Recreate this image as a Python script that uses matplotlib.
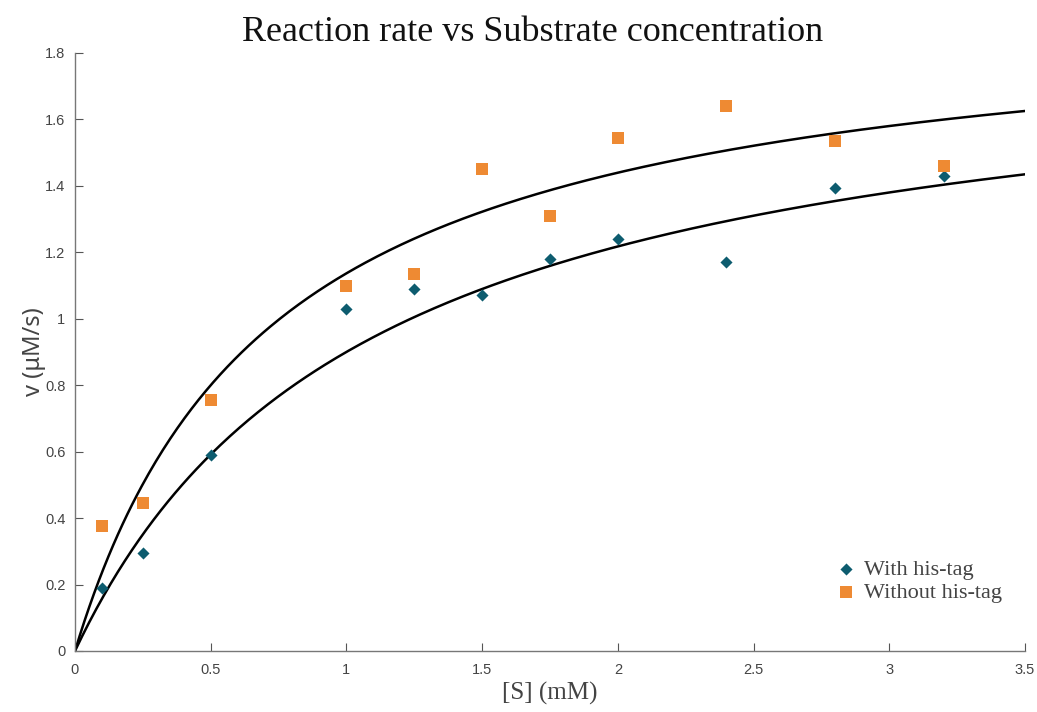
import numpy as np
import matplotlib
matplotlib.use("Agg")
import matplotlib.pyplot as plt

# Data
s_values = [0.1, 0.25, 0.5, 1.0, 1.25, 1.5, 1.75, 2.0, 2.4, 2.8, 3.2]
v_with_tag = [0.19, 0.295, 0.59, 1.03, 1.09, 1.07, 1.18, 1.24, 1.17, 1.395, 1.43]
v_without_tag = [0.375, 0.445, 0.755, 1.10, 1.135, 1.45, 1.31, 1.545, 1.64, 1.535, 1.46]
# Michaelis-Menten fit parameters (Vmax, Km)
fit_with = (1.882, 1.091)
fit_without = (1.963, 0.727)
x_ticks = [0, 0.5, 1, 1.5, 2, 2.5, 3, 3.5]
x_tick_labels = ["0", "0.5", "1", "1.5", "2", "2.5", "3", "3.5"]
y_ticks = [0, 0.2, 0.4, 0.6, 0.8, 1.0, 1.2, 1.4, 1.6, 1.8]
y_tick_labels = ["0", "0.2", "0.4", "0.6", "0.8", "1", "1.2", "1.4", "1.6", "1.8"]

fig = plt.figure(figsize=(10.37, 7.12), dpi=100)
ax = fig.add_axes([0.0723, 0.0857, 0.9161, 0.8399])

xs = np.linspace(0, 3.5, 400)
for vmax, km in (fit_without, fit_with):
    ax.plot(xs, vmax * xs / (km + xs), color="black", lw=1.8, zorder=2)

ax.scatter(s_values, v_with_tag, marker="D", s=38, color="#0d5c6f", zorder=3,
           label="With his-tag", linewidths=0)
ax.scatter(s_values, v_without_tag, marker="s", s=70, color="#ee8a33", zorder=3,
           label="Without his-tag", linewidths=0)

ax.set_xlim(0, 3.5)
ax.set_ylim(0, 1.8)
ax.set_xticks(x_ticks)
ax.set_xticklabels(x_tick_labels)
ax.set_yticks(y_ticks)
ax.set_yticklabels(y_tick_labels)

for sp in ("top", "right"):
    ax.spines[sp].set_visible(False)
for sp in ("left", "bottom"):
    ax.spines[sp].set_color("#777777")
    ax.spines[sp].set_linewidth(1.0)

tick_font = ["Liberation Sans", "DejaVu Sans"]
ax.tick_params(direction="in", length=6, color="#555555", labelcolor="#444444",
               labelsize=10.5)
ax.tick_params(axis="x", pad=9)
ax.tick_params(axis="y", pad=7)
for lab in ax.get_xticklabels() + ax.get_yticklabels():
    lab.set_family(tick_font)

serif = ["Liberation Serif", "DejaVu Serif"]
fig.text(0.514, 0.955, "Reaction rate vs Substrate concentration", ha="center", va="center",
         fontsize=26, family=serif, color="#111111")
ax.set_xlabel("[S] (mM)", fontsize=18, family=serif, color="#444444", labelpad=3)
ax.set_ylabel("v (μM/s)", fontsize=17, family=["Noto Sans", "DejaVu Sans"], color="#444444", labelpad=-1)

leg = ax.legend(loc="lower right", bbox_to_anchor=(0.985, 0.065), frameon=False,
                prop={"family": serif, "size": 16}, handletextpad=0.4, handlelength=0.8,
                labelspacing=0.12, borderaxespad=0.0, scatterpoints=1)
for t in leg.get_texts():
    t.set_color("#444444")

fig.savefig("out.png", dpi=100)
